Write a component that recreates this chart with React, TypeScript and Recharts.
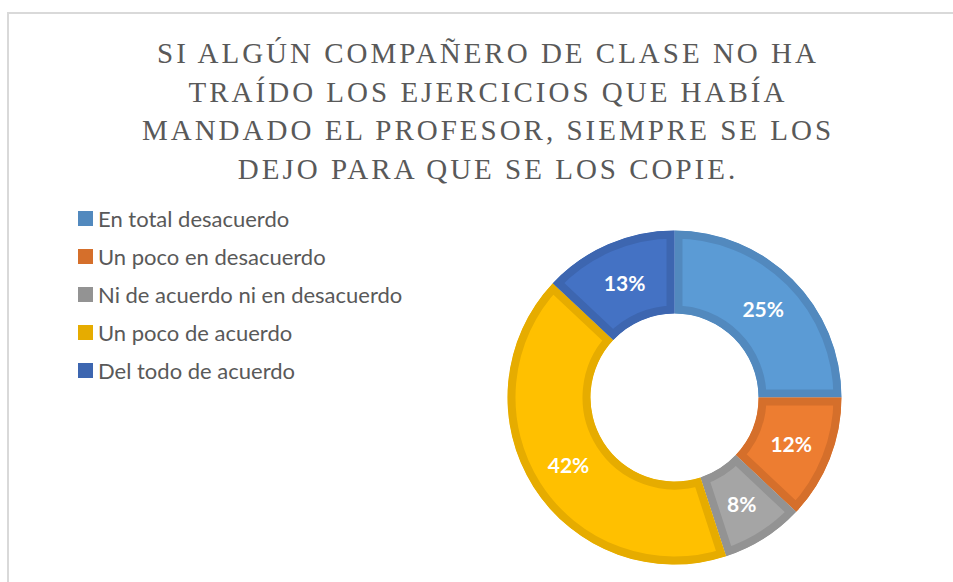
import React from "react";
import { PieChart, Pie, Cell, Sector } from "recharts";

const categories = [
  "En total desacuerdo",
  "Un poco en desacuerdo",
  "Ni de acuerdo ni en desacuerdo",
  "Un poco de acuerdo",
  "Del todo de acuerdo",
];
const percents = [25, 12, 8, 42, 13];
const fills = ["#5B9BD5", "#ED7D31", "#A5A5A5", "#FFC000", "#4472C4"];
const borders = ["#5289BE", "#D56F2B", "#939393", "#E6AC00", "#3D66B0"];
const titleLines = [
  "SI ALGÚN COMPAÑERO DE CLASE NO HA",
  "TRAÍDO LOS EJERCICIOS QUE HABÍA",
  "MANDADO EL PROFESOR, SIEMPRE SE LOS",
  "DEJO PARA QUE SE LOS COPIE.",
];

const data = categories.map((name, i) => ({ name, value: percents[i] }));

const RADIAN = Math.PI / 180;

// sector with its border kept inside (stroke clipped to the sector)
const SliceShape = (props: any) => {
  const { cx, cy, innerRadius, outerRadius, startAngle, endAngle, fill, stroke } = props;
  const id = `clip-${Math.round(startAngle * 100)}`;
  const geo = { cx, cy, innerRadius, outerRadius, startAngle, endAngle };
  return (
    <g>
      <defs>
        <clipPath id={id}>
          <Sector {...geo} />
        </clipPath>
      </defs>
      <Sector {...geo} fill={fill} stroke={stroke} strokeWidth={16} clipPath={`url(#${id})`} />
    </g>
  );
};

const renderLabel = (props: any) => {
  const { cx, cy, midAngle, innerRadius, outerRadius, value } = props;
  const r = (innerRadius + outerRadius) / 2;
  const x = cx + r * Math.cos(-midAngle * RADIAN);
  const y = cy + r * Math.sin(-midAngle * RADIAN);
  return (
    <text
      x={x}
      y={y}
      fill="#FFFFFF"
      textAnchor="middle"
      dominantBaseline="central"
      style={{ fontFamily: "Lato, sans-serif", fontWeight: 700, fontSize: 21 }}
    >
      {`${value}%`}
    </text>
  );
};

export default function App() {
  return (
    <div
      style={{ position: "absolute", left: 0, top: 0, width: 953, height: 582, background: "#fff", overflow: "hidden" }}
    >
      <div
        style={{
          position: "absolute",
          left: 7,
          top: 12,
          width: 1000,
          height: 700,
          border: "2px solid #D9D9D9",
        }}
      />
      <div
        style={{
          position: "absolute",
          left: 88,
          width: 800,
          top: 34,
          textAlign: "center",
          fontFamily: "'Liberation Serif', serif",
          fontSize: 29,
          lineHeight: "38.5px",
          color: "#595959",
          letterSpacing: 3,
        }}
      >
        {titleLines.map((t) => (
          <div key={t}>{t}</div>
        ))}
      </div>
      <PieChart
        width={953}
        height={582}
        margin={{ top: 0, right: 0, bottom: 0, left: 0 }}
        style={{ position: "absolute", left: 0, top: 0 }}
      >
        <Pie
          data={data}
          dataKey="value"
          nameKey="name"
          cx={674.5}
          cy={397.5}
          innerRadius={84}
          outerRadius={167}
          startAngle={90}
          endAngle={-270}
          stroke="none"
          shape={SliceShape}
          label={renderLabel}
          labelLine={false}
          isAnimationActive={false}
        >
          {data.map((d, i) => (
            <Cell key={d.name} fill={fills[i]} stroke={borders[i]} />
          ))}
        </Pie>
      </PieChart>
      <div style={{ position: "absolute", left: 78, top: 199 }}>
        {categories.map((c, i) => (
          <div key={c} style={{ display: "flex", alignItems: "center", height: 38, color: "#595959" }}>
            <span
              style={{ display: "inline-block", width: 15, height: 15, background: borders[i], marginRight: 5 }}
            />
            <span style={{ fontFamily: "Lato, sans-serif", fontSize: 22, whiteSpace: "nowrap" }}>{c}</span>
          </div>
        ))}
      </div>
    </div>
  );
}
